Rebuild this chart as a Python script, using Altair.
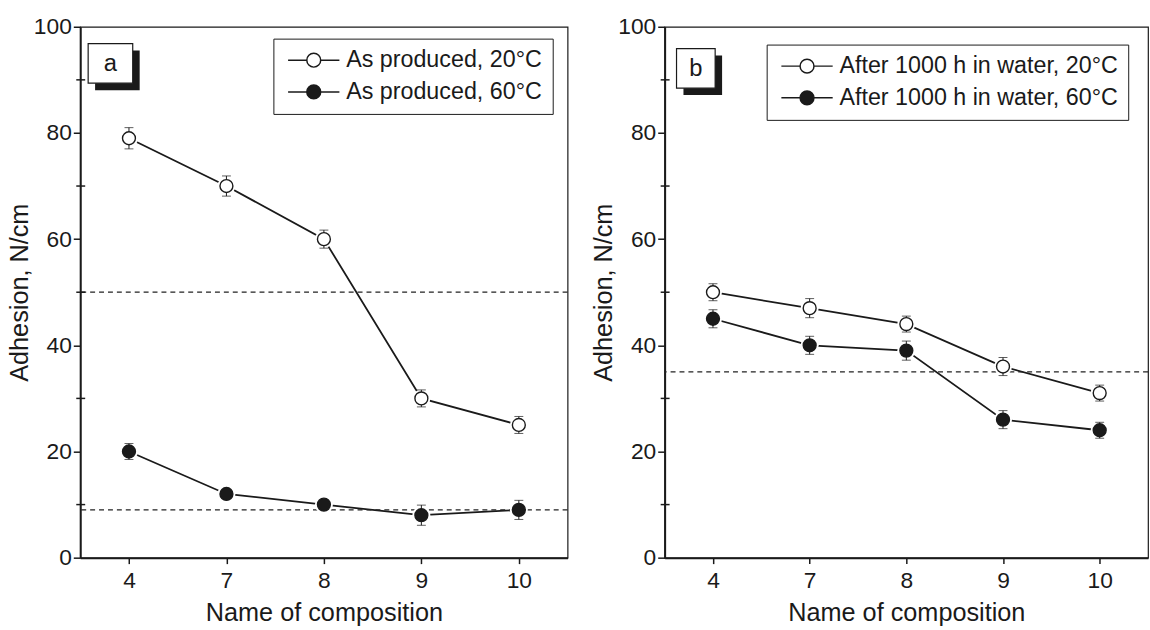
import altair as alt
import pandas as pd

compositions = ["4", "7", "8", "9", "10"]

a_series = ["As produced, 20°C", "As produced, 60°C"]
a_20 = [79, 70, 60, 30, 25]
a_20_err = [2.0, 1.9, 1.7, 1.6, 1.6]
a_60 = [20, 12, 10, 8, 9]
a_60_err = [1.5, 0.8, 0.6, 1.9, 1.8]
a_ref = [50, 9]

b_series = ["After 1000 h in water, 20°C", "After 1000 h in water, 60°C"]
b_20 = [50, 47, 44, 36, 31]
b_20_err = [1.6, 1.8, 1.5, 1.7, 1.5]
b_60 = [45, 40, 39, 26, 24]
b_60_err = [1.7, 1.7, 1.8, 1.7, 1.5]
b_ref = [35]

y_major = [0, 20, 40, 60, 80, 100]
y_minor = [10, 30, 50, 70, 90]

FONT = "Liberation Sans"
INK = "#1a1a1a"
LEGEND_PATH = "M-3.7,0H-1M1,0H3.7M1,0A1,1,0,1,1,-1,0A1,1,0,1,1,1,0Z"


def panel(series, v20, e20, v60, e60, refs, label, width, leg_xy, box):
    rows = []
    for s, vals, errs in [(series[0], v20, e20), (series[1], v60, e60)]:
        for c, v, e in zip(compositions, vals, errs):
            rows.append({"comp": c, "value": v, "lo": v - e, "hi": v + e, "series": s})
    df = pd.DataFrame(rows)
    ref_df = pd.DataFrame({"ref": refs})
    minor_df = pd.DataFrame({"minor": y_minor})
    lab_df = pd.DataFrame({"label": [label]})

    xenc = alt.X("comp:O", sort=compositions, title="Name of composition",
                 scale=alt.Scale(type="point", padding=0.5),
                 axis=alt.Axis(labelAngle=0, tickSize=6, labelPadding=6, titlePadding=8))
    yscale = alt.Scale(domain=[0, 100], nice=False)
    xs = alt.X("comp:O", sort=compositions)

    base = alt.Chart(df)

    lines = base.mark_line(color=INK, strokeWidth=1.8).encode(
        x=xenc,
        y=alt.Y("value:Q", scale=yscale, title="Adhesion, N/cm",
                axis=alt.Axis(values=y_major, tickSize=7, labelPadding=2, titlePadding=1,
                              orient="left")),
        detail="series:N",
    )
    refs_layer = alt.Chart(ref_df).mark_rule(color="#222", strokeDash=[5, 4], strokeWidth=1.2).encode(
        y=alt.Y("ref:Q", scale=yscale, axis=None)
    )
    minor_layer = alt.Chart(minor_df).mark_rule(color=INK, strokeWidth=1.5).encode(
        y=alt.Y("minor:Q", scale=yscale, axis=None), x=alt.value(-4), x2=alt.value(5)
    )
    halo = base.mark_point(filled=True, color="white", size=330, opacity=1).encode(
        x=xs, y=alt.Y("value:Q", scale=yscale, axis=None)
    )
    err = base.mark_rule(color=INK, strokeWidth=1).encode(
        x=xs, y=alt.Y("lo:Q", scale=yscale, axis=None), y2="hi:Q"
    )
    cap_hi = base.mark_tick(color=INK, size=9, thickness=1).encode(
        x=xs, y=alt.Y("hi:Q", scale=yscale, axis=None)
    )
    cap_lo = base.mark_tick(color=INK, size=9, thickness=1).encode(
        x=xs, y=alt.Y("lo:Q", scale=yscale, axis=None)
    )
    pts = base.mark_point(filled=False, size=170, strokeWidth=1.4, stroke=INK, opacity=1).encode(
        x=xs,
        y=alt.Y("value:Q", scale=yscale, axis=None),
        fill=alt.Fill("series:N", sort=series,
                      scale=alt.Scale(domain=series, range=["white", INK]),
                      legend=alt.Legend(
                          title=None, orient="none", legendX=leg_xy[0], legendY=leg_xy[1],
                          symbolType=LEGEND_PATH, symbolSize=196, symbolStrokeColor=INK,
                          symbolStrokeWidth=1.5, symbolOffset=19, labelOffset=21,
                          labelFontSize=23.5, labelFont=FONT, labelColor=INK,
                          rowPadding=7, padding=10, strokeColor=INK, fillColor="white",
                          labelLimit=400)),
    )
    x0, y0, x1, y1 = box
    shadow = alt.Chart(lab_df).mark_rect(color=INK).encode(
        x=alt.value(x0 + 7), x2=alt.value(x1 + 7), y=alt.value(y0 + 7), y2=alt.value(y1 + 7)
    )
    boxm = alt.Chart(lab_df).mark_rect(fill="white", stroke=INK, strokeWidth=1.2).encode(
        x=alt.value(x0), x2=alt.value(x1), y=alt.value(y0), y2=alt.value(y1)
    )
    txt = alt.Chart(lab_df).mark_text(fontSize=24, font=FONT, color=INK, baseline="middle",
                                      align="center").encode(
        text="label:N", x=alt.value((x0 + x1) / 2), y=alt.value((y0 + y1) / 2 + 1)
    )
    return alt.layer(lines, refs_layer, minor_layer, halo, err, cap_hi, cap_lo, pts,
                     shadow, boxm, txt).resolve_axis(y="independent").properties(
        width=width, height=536)


pa = panel(a_series, a_20, a_20_err, a_60, a_60_err, a_ref, "a", 492, (195, 12), (8, 17, 53, 57))
pb = panel(b_series, b_20, b_20_err, b_60, b_60_err, b_ref, "b", 488, (103, 18), (12, 22, 51, 62))

chart = alt.hconcat(pa, pb, spacing=22).resolve_scale(fill="independent", y="independent").resolve_legend(
    fill="independent"
).properties(
    padding={"left": 7, "top": 12, "right": 0, "bottom": 0},
    background="white",
).configure_view(stroke=INK, strokeWidth=1.2).configure_axis(
    labelFont=FONT, titleFont=FONT, labelFontSize=23, titleFontSize=25.5,
    labelColor=INK, titleColor=INK, titleFontWeight="normal",
    domainColor=INK, domainWidth=2, tickColor=INK, tickWidth=1.5, grid=False,
)

chart.save("out.html", embed_options={"renderer": "svg", "actions": False})
